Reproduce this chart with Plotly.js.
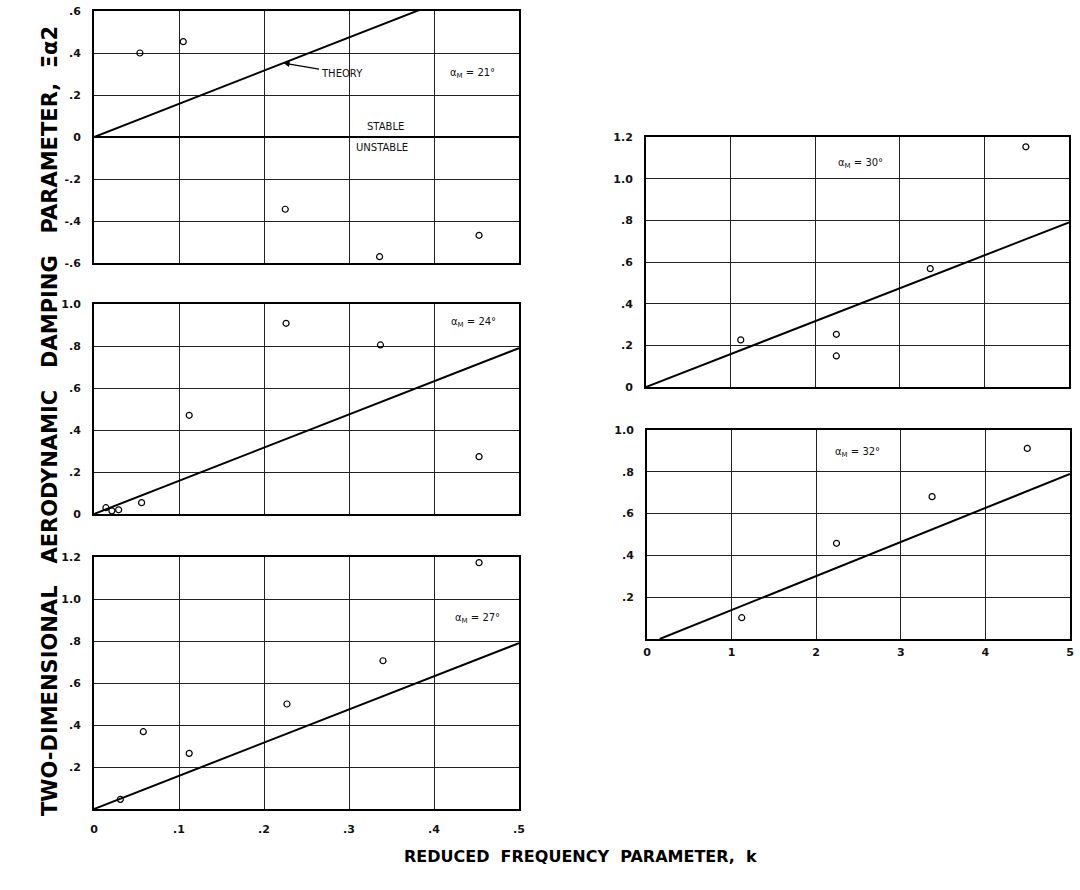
<!DOCTYPE html>
<html><head><meta charset="utf-8">
<script src="https://cdn.plot.ly/plotly-3.0.1.min.js"></script>
<style>body{margin:0;background:#fff}#c{width:1080px;height:890px}</style>
</head><body><div id="c"></div>
<script>
// ---- data ----
const k21 = [0.054, 0.105, 0.225, 0.336, 0.453];
const v21 = [0.40, 0.454, -0.344, -0.57, -0.468];
const k24 = [0.014, 0.021, 0.029, 0.056, 0.112, 0.226, 0.337, 0.453];
const v24 = [0.03, 0.015, 0.02, 0.054, 0.47, 0.908, 0.805, 0.273];
const k27 = [0.031, 0.058, 0.112, 0.227, 0.340, 0.453];
const v27 = [0.046, 0.368, 0.265, 0.50, 0.706, 1.173];
const k30 = [0.112, 0.225, 0.225, 0.336, 0.449];
const v30 = [0.226, 0.253, 0.149, 0.568, 1.153];
const k32 = [0.112, 0.224, 0.337, 0.4495];
const v32 = [0.102, 0.458, 0.681, 0.912];
const theoryK = [0, 0.5];
const theoryV = [0, 0.79];
const theory32K = [0.015, 0.5];
const theory32V = [0, 0.79];

const xTickVals = [0, 0.1, 0.2, 0.3, 0.4, 0.5];
const xTickLeft = ['0', '.1', '.2', '.3', '.4', '.5'];
const xTickRight = ['0', '1', '2', '3', '4', '5'];
const yVals21 = [-0.6, -0.4, -0.2, 0, 0.2, 0.4, 0.6];
const yText21 = ['-.6', '-.4', '-.2', '0', '.2', '.4', '.6'];
const yVals10 = [0, 0.2, 0.4, 0.6, 0.8, 1.0];
const yText10 = ['0', '.2', '.4', '.6', '.8', '1.0'];
const yVals12 = [0, 0.2, 0.4, 0.6, 0.8, 1.0, 1.2];
const yText12 = ['0', '.2', '.4', '.6', '.8', '1.0', '1.2'];
const yVals12b = [0.2, 0.4, 0.6, 0.8, 1.0, 1.2];
const yText12b = ['.2', '.4', '.6', '.8', '1.0', '1.2'];

// ---- helpers ----
const W = 1080, H = 890;
const px = v => v / W;
const py = v => 1 - v / H;
const tickFont = {family: 'DejaVu Sans', size: 11, color: '#111', weight: 'bold'};

function xAxis(l, r, anchor, showLabels, labels, standoff) {
  return {
    domain: [px(l), px(r)], range: [0, 0.5], anchor: anchor,
    tickmode: 'array', tickvals: xTickVals, ticktext: labels,
    showticklabels: showLabels, ticks: '', ticklabelstandoff: standoff || 8,
    showgrid: true, gridcolor: '#222', gridwidth: 1, zeroline: false,
    showline: true, linecolor: '#000', linewidth: 2, mirror: true,
    tickfont: tickFont, fixedrange: true
  };
}
function yAxis(t, b, range, vals, text, anchor, zero) {
  return {
    domain: [py(b), py(t)], range: range, anchor: anchor,
    tickmode: 'array', tickvals: vals, ticktext: text,
    ticks: '', ticklabelstandoff: 9,
    showgrid: true, gridcolor: '#222', gridwidth: 1,
    zeroline: !!zero, zerolinecolor: '#000', zerolinewidth: 2,
    showline: true, linecolor: '#000', linewidth: 2, mirror: true,
    tickfont: tickFont, fixedrange: true
  };
}
const pts = (x, y, xa, ya) => ({x: x, y: y, xaxis: xa, yaxis: ya, type: 'scatter', mode: 'markers',
  marker: {symbol: 'circle-open', size: 6, color: '#000', line: {width: 1.2, color: '#000'}}, showlegend: false, hoverinfo: 'skip'});
const line = (x, y, xa, ya) => ({x: x, y: y, xaxis: xa, yaxis: ya, type: 'scatter', mode: 'lines',
  line: {color: '#000', width: 2}, showlegend: false, hoverinfo: 'skip'});

const data = [
  line(theoryK, theoryV, 'x', 'y'), pts(k21, v21, 'x', 'y'),
  line(theoryK, theoryV, 'x2', 'y2'), pts(k24, v24, 'x2', 'y2'),
  line(theoryK, theoryV, 'x3', 'y3'), pts(k27, v27, 'x3', 'y3'),
  line(theoryK, theoryV, 'x4', 'y4'), pts(k30, v30, 'x4', 'y4'),
  line(theory32K, theory32V, 'x5', 'y5'), pts(k32, v32, 'x5', 'y5')
];

const annFont = {family: 'DejaVu Sans', size: 10, color: '#111'};
const lab = (txt, xr, yr, x, y) => ({text: txt, xref: xr, yref: yr, x: x, y: y, showarrow: false, font: annFont});
const sp = '\u00a0\u00a0\u00a0';

const layout = {
  width: W, height: H, margin: {l: 0, r: 0, t: 0, b: 0},
  paper_bgcolor: '#fff', plot_bgcolor: '#fff', showlegend: false,
  xaxis: xAxis(94, 519, 'y', false, xTickLeft),
  yaxis: yAxis(11, 263, [-0.6, 0.6], yVals21, yText21, 'x', true),
  xaxis2: xAxis(94, 519, 'y2', false, xTickLeft),
  yaxis2: yAxis(304, 514, [0, 1.0], yVals10, yText10, 'x2'),
  xaxis3: xAxis(94, 519, 'y3', true, xTickLeft, 9),
  yaxis3: yAxis(557, 809, [0, 1.2], yVals12b, yText12b, 'x3'),
  xaxis4: xAxis(646, 1069, 'y4', false, xTickRight),
  yaxis4: yAxis(137, 387, [0, 1.2], yVals12, yText12, 'x4'),
  xaxis5: xAxis(647, 1070, 'y5', true, xTickRight, 2),
  yaxis5: yAxis(430, 639, [0, 1.0], yVals10.slice(1), yText10.slice(1), 'x5'),
  annotations: [
    {text: 'THEORY', xref: 'x', yref: 'y', x: 0.223, y: 0.352, ax: 58, ay: 10,
     showarrow: true, arrowhead: 2, arrowsize: 1, arrowwidth: 1.2, arrowcolor: '#000', standoff: 0, font: annFont},
    lab('α<sub>M</sub> = 21°', 'x', 'y', 0.445, 0.30),
    lab('STABLE', 'x', 'y', 0.3435, 0.05),
    lab('UNSTABLE', 'x', 'y', 0.339, -0.048),
    lab('α<sub>M</sub> = 24°', 'x2', 'y2', 0.447, 0.91),
    lab('α<sub>M</sub> = 27°', 'x3', 'y3', 0.451, 0.905),
    lab('α<sub>M</sub> = 30°', 'x4', 'y4', 0.253, 1.075),
    lab('α<sub>M</sub> = 32°', 'x5', 'y5', 0.249, 0.89),
    {text: 'REDUCED\u00a0 FREQUENCY\u00a0 PARAMETER,\u00a0 k', xref: 'paper', yref: 'paper',
     x: px(580), y: py(868), showarrow: false,
     font: {family: 'DejaVu Sans', size: 16, color: '#000', weight: 'bold'}},
    {text: 'TWO-DIMENSIONAL' + sp + 'AERODYNAMIC' + sp + 'DAMPING' + sp + 'PARAMETER,\u00a0\u00a0Ξα2', xref: 'paper', yref: 'paper',
     x: px(36), y: py(421), showarrow: false, textangle: -90,
     font: {family: 'DejaVu Sans', size: 21, color: '#000', weight: 'bold'}}
  ]
};
Plotly.newPlot('c', data, layout, {displayModeBar: false, staticPlot: true});
</script></body></html>
